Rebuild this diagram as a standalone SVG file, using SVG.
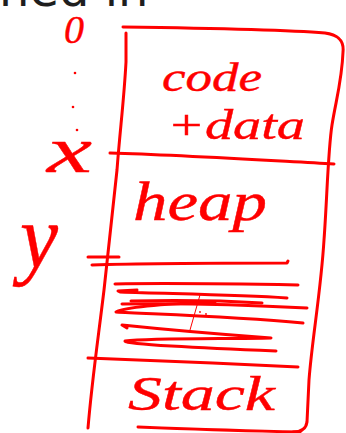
<svg xmlns="http://www.w3.org/2000/svg" width="346" height="433" viewBox="0 0 346 433">
<style>
.ink{fill:none;stroke:#ff0000;stroke-width:3;stroke-linecap:round;stroke-linejoin:round}
.thin{fill:none;stroke:#ff0000;stroke-width:1;stroke-linecap:round}
.hw{fill:#ff0000;stroke:#ff0000;stroke-width:0.4;font-family:"Liberation Serif","DejaVu Serif",serif;font-style:italic}
.title{fill:#1e1e1e;font-family:"DejaVu Sans","Liberation Sans",sans-serif;font-size:48px}
</style>
<rect width="346" height="433" fill="#ffffff"/>
<text class="title" x="-1" y="6">ned in</text>

<g id="labels">
  <text class="hw" x="64" y="43" font-size="40">0</text>
  <circle cx="75" cy="73" r="1.3" fill="#ff0000"/>
  <circle cx="73" cy="107" r="1.3" fill="#ff0000"/>
  <circle cx="77" cy="130" r="1.3" fill="#ff0000"/>
  <text class="hw" x="47" y="172" font-size="66" textLength="45" lengthAdjust="spacingAndGlyphs">x</text>
  <text class="hw" x="20" y="268" font-size="90" textLength="38" lengthAdjust="spacingAndGlyphs">y</text>
</g>

<g id="connectors">
  <path class="ink" d="M 110 153 C 180 155, 260 160, 334 164"/>
  <path class="ink" d="M 88 257 L 119 257"/>
  <path class="ink" d="M 92 265 C 150 263, 230 263, 287 263 L 288 261"/>
  <path class="ink" d="M 88 358 C 150 360, 230 364, 298 367"/>
</g>

<g id="memory-box">
  <path class="ink" d="M 123 27 C 200 28, 290 30, 325 33 C 340 35, 344 42, 343 52 C 342 80, 336 100, 332 125 C 328 150, 327 200, 324 240 C 321 290, 312 340, 309 380 L 307 422 C 306 430, 300 432, 293 432"/>
  <path class="ink" d="M 138 427 C 190 429, 250 431, 300 432"/>
  <path class="ink" d="M 126 33 L 126 62 C 124 100, 120 130, 117 170 C 113 210, 108 250, 104 290 C 98 340, 92 380, 88 428"/>
</g>

<g id="code-data">
  <text class="hw" x="162" y="91" font-size="40" textLength="100" lengthAdjust="spacingAndGlyphs">code</text>
  <text class="hw" x="167" y="139" font-size="42" textLength="138" lengthAdjust="spacingAndGlyphs">+data</text>
</g>

<g id="heap">
  <text class="hw" x="133" y="220" font-size="54" textLength="134" lengthAdjust="spacingAndGlyphs">heap</text>
</g>

<g id="free-space">
  <path class="ink" d="M 115 284 C 170 283, 240 284, 298 285"/>
  <path class="ink" d="M 137 290 L 118 291 L 120 292 C 180 294, 240 295, 287 298"/>
  <path class="ink" d="M 131 301 C 180 300, 230 301, 262 303"/>
  <path class="ink" d="M 122 304 C 180 303, 250 305, 307 308"/>
  <path class="ink" d="M 215 302 C 160 304, 125 307, 116 312 C 150 314, 230 316, 303 323"/>
  <path class="ink" d="M 127 328 L 122 325 C 170 330, 230 335, 271 338 C 230 339, 150 338, 125 341 C 123 344, 200 348, 276 351"/>
  <path class="thin" d="M 200 295 L 190 330"/>
  <circle cx="200" cy="312" r="0.9" fill="#ff0000"/>
  <circle cx="206" cy="314" r="0.9" fill="#ff0000"/>
</g>

<g id="stack">
  <text class="hw" x="128" y="410" font-size="48" textLength="147" lengthAdjust="spacingAndGlyphs">Stack</text>
</g>
</svg>
